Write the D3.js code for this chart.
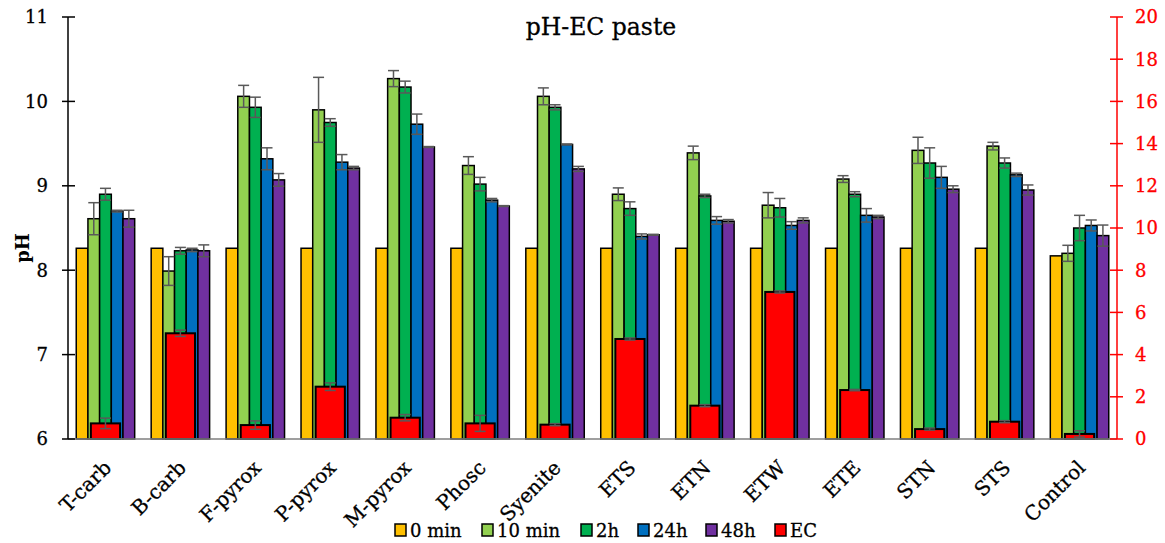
<!DOCTYPE html>
<html>
<head>
<meta charset="utf-8">
<script src="https://cdn.jsdelivr.net/npm/d3@7"></script>
<style>
  body { margin: 0; background: #fff; }
  text { font-family: "DejaVu Serif", serif; }
</style>
</head>
<body>
<div id="chart"></div>
<script>
// categories and series
const categories = ["T-carb", "B-carb", "F-pyrox", "P-pyrox", "M-pyrox", "Phosc", "Syenite", "ETS", "ETN", "ETW", "ETE", "STN", "STS", "Control"];
const series = ["0 min", "10 min", "2h", "24h", "48h"];
const colors = ["#FFC000", "#92D050", "#00B050", "#0070C0", "#7030A0"];

// pH values per time point
const ph0 = [8.26, 8.26, 8.26, 8.26, 8.26, 8.26, 8.26, 8.26, 8.26, 8.26, 8.26, 8.26, 8.26, 8.17];
const ph10 = [8.61, 7.99, 10.06, 9.90, 10.27, 9.24, 10.06, 8.90, 9.39, 8.77, 9.08, 9.42, 9.47, 8.20];
const ph2h = [8.90, 8.23, 9.93, 9.75, 10.17, 9.02, 9.93, 8.73, 8.88, 8.74, 8.90, 9.27, 9.27, 8.50];
const ph24 = [8.70, 8.24, 9.32, 9.28, 9.73, 8.83, 9.49, 8.40, 8.59, 8.53, 8.65, 9.10, 9.13, 8.53];
const ph48 = [8.61, 8.23, 9.07, 9.21, 9.46, 8.76, 9.20, 8.42, 8.58, 8.59, 8.63, 8.96, 8.95, 8.41];

// pH error (+/-)
const err0 = [0, 0, 0, 0, 0, 0, 0, 0, 0, 0, 0, 0, 0, 0];
const err10 = [0.19, 0.17, 0.13, 0.385, 0.095, 0.105, 0.10, 0.075, 0.08, 0.15, 0.04, 0.155, 0.045, 0.095];
const err2h = [0.07, 0.04, 0.12, 0.045, 0.07, 0.08, 0.03, 0.08, 0.02, 0.11, 0.03, 0.18, 0.06, 0.15];
const err24 = [0.01, 0.02, 0.13, 0.09, 0.12, 0.02, 0.005, 0.03, 0.045, 0.045, 0.08, 0.13, 0.02, 0.065];
const err48 = [0.10, 0.07, 0.075, 0.02, 0.005, 0.005, 0.03, 0.005, 0.02, 0.03, 0.02, 0.04, 0.06, 0.125];

// EC (right axis)
const ec = [0.74, 5.01, 0.66, 2.48, 1.01, 0.74, 0.68, 4.74, 1.58, 6.97, 2.32, 0.47, 0.82, 0.24];
const ecErr = [0.25, 0.15, 0.2, 0.18, 0.15, 0.38, 0.05, 0.05, 0.05, 0.05, 0.03, 0.05, 0.05, 0.15];

const phTicks = [6, 7, 8, 9, 10, 11];
const ecTicks = [0, 2, 4, 6, 8, 10, 12, 14, 16, 18, 20];

const phSeries = [ph0, ph10, ph2h, ph24, ph48];
const phErrs = [err0, err10, err2h, err24, err48];

const W = 1165, H = 543;
const mLeft = 68, mRight = 1117, mTop = 17, mBottom = 439;

const svg = d3.select("#chart").append("svg")
  .attr("width", W)
  .attr("height", H);

const x0 = d3.scaleBand()
  .domain(categories)
  .range([mLeft, mRight])
  .paddingInner(0.22)
  .paddingOuter(0.11);

const x1 = d3.scaleBand()
  .domain(series)
  .range([0, x0.bandwidth()]);

const yPh = d3.scaleLinear().domain([6, 11]).range([mBottom, mTop]);
const yEc = d3.scaleLinear().domain([0, 20]).range([mBottom, mTop]);

// pH bars
const groups = svg.append("g").selectAll("g")
  .data(categories)
  .join("g")
    .attr("transform", d => `translate(${x0(d)},0)`);

series.forEach((s, si) => {
  groups.append("rect")
    .attr("x", x1(s))
    .attr("y", (d, i) => yPh(phSeries[si][i]))
    .attr("width", x1.bandwidth())
    .attr("height", (d, i) => mBottom - yPh(phSeries[si][i]))
    .attr("fill", colors[si])
    .attr("stroke", "#000")
    .attr("stroke-width", 1.5);
});

// pH error bars
const errColor = "#595959";
series.forEach((s, si) => {
  groups.each(function(d, i) {
    const e = phErrs[si][i];
    if (!e) return;
    const g = d3.select(this);
    const cx = x1(s) + x1.bandwidth() / 2;
    const v = phSeries[si][i];
    g.append("line")
      .attr("x1", cx).attr("x2", cx)
      .attr("y1", yPh(v + e)).attr("y2", yPh(v - e))
      .attr("stroke", errColor).attr("stroke-width", 1.5);
    [v + e, v - e].forEach(t => {
      g.append("line")
        .attr("x1", cx - 5.5).attr("x2", cx + 5.5)
        .attr("y1", yPh(t)).attr("y2", yPh(t))
        .attr("stroke", errColor).attr("stroke-width", 1.5);
    });
  });
});

// EC bars
const ecW = x0.bandwidth() * 0.5;
groups.append("rect")
  .attr("x", (x0.bandwidth() - ecW) / 2)
  .attr("y", (d, i) => yEc(ec[i]))
  .attr("width", ecW)
  .attr("height", (d, i) => mBottom - yEc(ec[i]))
  .attr("fill", "#FF0000")
  .attr("stroke", "#000")
  .attr("stroke-width", 2);

groups.each(function(d, i) {
  const g = d3.select(this);
  const cx = x0.bandwidth() / 2;
  const v = ec[i], e = ecErr[i];
  g.append("line")
    .attr("x1", cx).attr("x2", cx)
    .attr("y1", yEc(v + e)).attr("y2", yEc(Math.max(0, v - e)))
    .attr("stroke", errColor).attr("stroke-width", 1.5);
  [v + e, Math.max(0, v - e)].forEach(t => {
    g.append("line")
      .attr("x1", cx - 5.5).attr("x2", cx + 5.5)
      .attr("y1", yEc(t)).attr("y2", yEc(t))
      .attr("stroke", errColor).attr("stroke-width", 1.5);
  });
});

// x axis line
svg.append("line")
  .attr("x1", mLeft).attr("x2", mRight)
  .attr("y1", mBottom).attr("y2", mBottom)
  .attr("stroke", "#7f7f7f")
  .attr("stroke-width", 1.5);

// left axis
const leftAxis = svg.append("g").attr("transform", `translate(${mLeft},0)`);
leftAxis.append("line")
  .attr("y1", mTop).attr("y2", mBottom)
  .attr("stroke", "#000").attr("stroke-width", 1.5);
leftAxis.selectAll(".tk").data(phTicks).join("line")
  .attr("x1", -6).attr("x2", 7)
  .attr("y1", d => yPh(d)).attr("y2", d => yPh(d))
  .attr("stroke", "#000").attr("stroke-width", 1.5);
leftAxis.selectAll("text").data(phTicks).join("text")
  .attr("x", -20)
  .attr("y", d => yPh(d))
  .attr("dy", "0.35em")
  .attr("text-anchor", "end")
  .attr("font-size", 18)
  .attr("stroke", "#000").attr("stroke-width", 0.3)
  .text(d => d);

svg.append("text")
  .attr("transform", `translate(29,${(mTop + mBottom) / 2 + 20}) rotate(-90)`)
  .attr("text-anchor", "middle")
  .attr("font-size", 18)
  .attr("font-weight", "bold")
  .text("pH");

// right axis
const rightAxis = svg.append("g").attr("transform", `translate(${mRight},0)`);
rightAxis.append("line")
  .attr("y1", mTop).attr("y2", mBottom)
  .attr("stroke", "#FF0000").attr("stroke-width", 1.5);
rightAxis.selectAll(".tk").data(ecTicks).join("line")
  .attr("x1", -7).attr("x2", 6)
  .attr("y1", d => yEc(d)).attr("y2", d => yEc(d))
  .attr("stroke", "#FF0000").attr("stroke-width", 1.5);
rightAxis.selectAll("text").data(ecTicks).join("text")
  .attr("x", 18)
  .attr("y", d => yEc(d))
  .attr("dy", "0.35em")
  .attr("font-size", 18)
  .attr("fill", "#FF0000")
  .attr("stroke", "#FF0000").attr("stroke-width", 0.3)
  .text(d => d);

// category labels
svg.append("g").selectAll("text")
  .data(categories)
  .join("text")
    .attr("transform", d => `translate(${x0(d) + x0.bandwidth() / 2 + 7},${mBottom + 30}) rotate(-45)`)
    .attr("text-anchor", "end")
    .attr("font-size", 20)
    .attr("stroke", "#000").attr("stroke-width", 0.3)
    .text(d => d);

// title
svg.append("text")
  .attr("x", 601)
  .attr("y", 35)
  .attr("text-anchor", "middle")
  .attr("font-size", 23.5)
  .attr("stroke", "#000").attr("stroke-width", 0.3)
  .text("pH-EC paste");

// legend
const legendItems = series.map((s, i) => ({ name: s, color: colors[i] }))
  .concat([{ name: "EC", color: "#FF0000" }]);
const legendX = [395, 482, 581, 638, 706, 775];
const legend = svg.append("g");
legendItems.forEach((it, i) => {
  const g = legend.append("g").attr("transform", `translate(${legendX[i]},524)`);
  g.append("rect")
    .attr("width", 11).attr("height", 12)
    .attr("fill", it.color)
    .attr("stroke", "#000").attr("stroke-width", 1.5);
  g.append("text")
    .attr("x", 15).attr("y", 12.5)
    .attr("font-size", 18)
    .attr("stroke", "#000").attr("stroke-width", 0.3)
    .text(it.name);
});
</script>
</body>
</html>
